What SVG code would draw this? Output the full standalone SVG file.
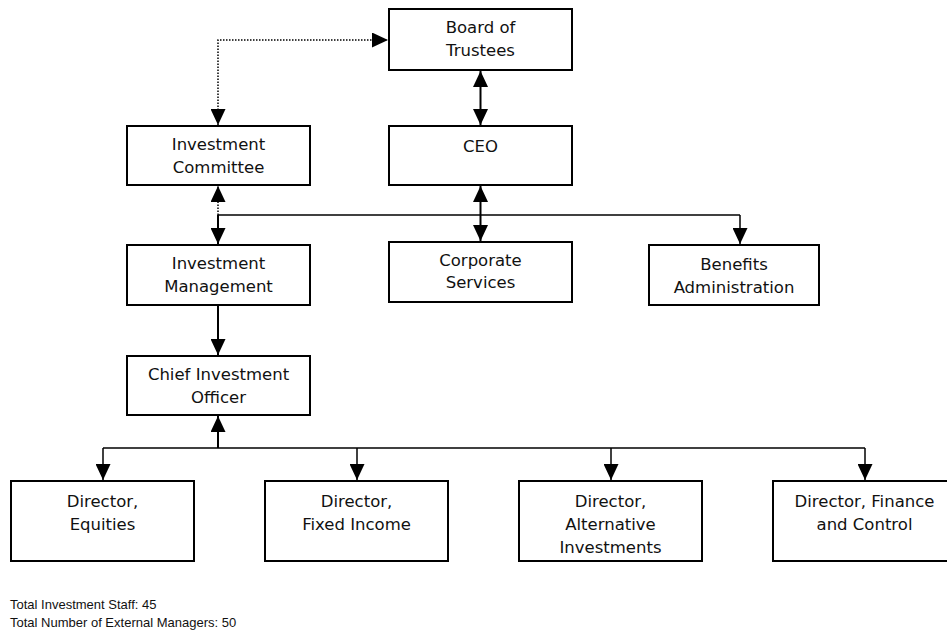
<svg xmlns="http://www.w3.org/2000/svg" width="947" height="637" viewBox="0 0 947 637">
  <style>
    .box rect { fill: #ffffff; stroke: #000000; stroke-width: 2; }
    .box text { font-family: "DejaVu Sans", Verdana, sans-serif; font-size: 16.5px; fill: #111111; text-anchor: middle; }
    .wire { fill: none; stroke: #000000; stroke-width: 1.5; }
    .heavy { stroke-width: 2; }
    .dotted { stroke-dasharray: 1.5 1.5; }
    .note { font-family: "Liberation Sans", Arial, sans-serif; font-size: 13px; fill: #111111; }
  </style>
  <defs>
    <marker id="arrow" viewBox="0 0 16 15" refX="16" refY="7.5" markerWidth="16" markerHeight="15" markerUnits="userSpaceOnUse" orient="auto-start-reverse">
      <path d="M0,0 L16,7.5 L0,15 Z" fill="#000000"/>
    </marker>
  </defs>
  <rect width="947" height="637" fill="#ffffff"/>

  <g id="connectors">
    <!-- dotted reporting line: Investment Committee <-> Board -->
    <path class="wire dotted" d="M218,125 L218,40 L388,40" marker-start="url(#arrow)" marker-end="url(#arrow)"/>
    <!-- Board <-> CEO -->
    <path class="wire heavy" d="M480.5,71 L480.5,125" marker-start="url(#arrow)" marker-end="url(#arrow)"/>
    <!-- CEO <-> Corporate Services -->
    <path class="wire heavy" d="M480.5,186 L480.5,241" marker-start="url(#arrow)" marker-end="url(#arrow)"/>
    <!-- dotted link up to Investment Committee -->
    <path class="wire dotted" d="M218,215 L218,186" marker-end="url(#arrow)"/>
    <!-- CEO distribution bus -->
    <path class="wire" d="M218,215 L740,215"/>
    <path class="wire heavy" d="M218,215 L218,244" marker-end="url(#arrow)"/>
    <path class="wire" d="M740,215 L740,244" marker-end="url(#arrow)"/>
    <!-- Investment Management -> CIO -->
    <path class="wire heavy" d="M218,306 L218,355" marker-end="url(#arrow)"/>
    <!-- directors -> CIO -->
    <path class="wire heavy" d="M218,448 L218,416" marker-end="url(#arrow)"/>
    <path class="wire" d="M103,448 L865,448"/>
    <path class="wire" d="M103,448 L103,480" marker-end="url(#arrow)"/>
    <path class="wire" d="M357,448 L357,480" marker-end="url(#arrow)"/>
    <path class="wire" d="M611,448 L611,480" marker-end="url(#arrow)"/>
    <path class="wire" d="M865,448 L865,480" marker-end="url(#arrow)"/>
  </g>

  <g id="board" class="box">
    <rect x="389" y="9" width="183" height="61"/>
    <text x="480.5" y="33">Board of</text>
    <text x="480.5" y="56">Trustees</text>
  </g>
  <g id="investment-committee" class="box">
    <rect x="127" y="126" width="183" height="59"/>
    <text x="218.5" y="150">Investment</text>
    <text x="218.5" y="173">Committee</text>
  </g>
  <g id="ceo" class="box">
    <rect x="389" y="126" width="183" height="59"/>
    <text x="480.5" y="152">CEO</text>
  </g>
  <g id="investment-management" class="box">
    <rect x="127" y="245" width="183" height="60"/>
    <text x="218.5" y="269">Investment</text>
    <text x="218.5" y="292">Management</text>
  </g>
  <g id="corporate-services" class="box">
    <rect x="389" y="242" width="183" height="60"/>
    <text x="480.5" y="266">Corporate</text>
    <text x="480.5" y="288">Services</text>
  </g>
  <g id="benefits-administration" class="box">
    <rect x="649" y="245" width="170" height="60"/>
    <text x="734" y="270">Benefits</text>
    <text x="734" y="293">Administration</text>
  </g>
  <g id="cio" class="box">
    <rect x="127" y="356" width="183" height="59"/>
    <text x="218.5" y="380">Chief Investment</text>
    <text x="218.5" y="403">Officer</text>
  </g>
  <g id="director-equities" class="box">
    <rect x="11" y="481" width="183" height="80"/>
    <text x="102.5" y="507">Director,</text>
    <text x="102.5" y="530">Equities</text>
  </g>
  <g id="director-fixed-income" class="box">
    <rect x="265" y="481" width="183" height="80"/>
    <text x="356.5" y="507">Director,</text>
    <text x="356.5" y="530">Fixed Income</text>
  </g>
  <g id="director-alternatives" class="box">
    <rect x="519" y="481" width="183" height="80"/>
    <text x="610.5" y="507">Director,</text>
    <text x="610.5" y="530">Alternative</text>
    <text x="610.5" y="553">Investments</text>
  </g>
  <g id="director-finance" class="box">
    <rect x="773" y="481" width="183" height="80"/>
    <text x="864.5" y="507">Director, Finance</text>
    <text x="864.5" y="530">and Control</text>
  </g>

  <g id="notes">
    <text class="note" x="10" y="609">Total Investment Staff: 45</text>
    <text class="note" x="10" y="627">Total Number of External Managers: 50</text>
  </g>
</svg>
